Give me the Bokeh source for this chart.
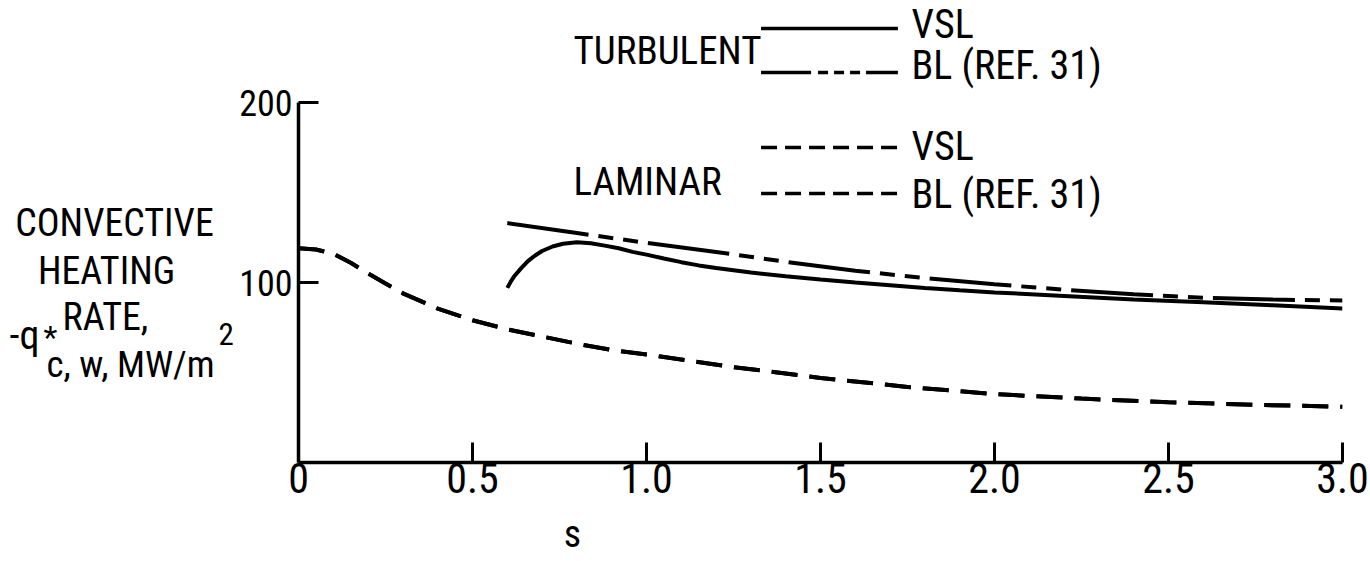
from bokeh.plotting import figure
from bokeh.models import Range1d, FixedTicker, Label, CustomJSTickFormatter
from bokeh.layouts import row, column
from bokeh.embed import file_html
from bokeh.resources import INLINE

# ---------------- data ----------------
# laminar: VSL and BL (ref. 31) coincide in the picture
s_lam = [0.0, 0.05, 0.1, 0.15, 0.2, 0.25, 0.3, 0.4, 0.5, 0.6, 0.7, 0.8, 0.9, 1.0,
         1.25, 1.5, 1.75, 2.0, 2.25, 2.5, 2.75, 3.0]
q_lam_vsl = [119, 118.3, 116, 111, 105, 99.5, 94, 85.5, 79, 74, 70, 66, 62.5, 60,
             53, 47, 42, 38, 35.5, 33.5, 32, 31]
q_lam_bl = [119, 118.3, 116, 111, 105, 99.5, 94, 85.5, 79, 74, 70, 66, 62.5, 60,
            53, 47, 42, 38, 35.5, 33.5, 32, 31]

# turbulent VSL
s_turb_vsl = [0.6, 0.61, 0.62, 0.64, 0.66, 0.68, 0.7, 0.73, 0.76, 0.8, 0.84, 0.88,
              0.92, 0.96, 1.0, 1.05, 1.1, 1.15, 1.2, 1.3, 1.4, 1.5, 1.6, 1.7, 1.8,
              1.9, 2.0, 2.2, 2.4, 2.6, 2.8, 3.0]
q_turb_vsl = [97, 100.5, 103.5, 108, 112, 115, 117.5, 120, 121.5, 122.3, 121.8, 120.5,
              119, 117, 115.5, 113.3, 111.3, 109.5, 108, 105.5, 103.5, 101.7, 100, 98.5, 97,
              95.7, 94.5, 92.5, 90.5, 89, 87.3, 85.6]

# turbulent BL (ref. 31)
s_turb_bl = [0.6, 0.8, 1.0, 1.2, 1.4, 1.6, 1.8, 2.0, 2.2, 2.4, 2.6, 2.8, 3.0]
q_turb_bl = [133, 127.5, 122, 117, 111.5, 106.5, 102.5, 99, 96, 93.5, 91.5, 90.5, 90]

x_ticks = [0.0, 0.5, 1.0, 1.5, 2.0, 2.5, 3.0]
y_ticks = [100, 200]

legend_groups = ["TURBULENT", "LAMINAR"]
legend_items = ["VSL", "BL (REF. 31)"]
x_label = "s"
y_label_lines = ["CONVECTIVE", "HEATING", "RATE,"]

# ---------------- layout ----------------
FONT = "'Liberation Sans Narrow', 'Roboto Condensed', 'DejaVu Sans Condensed', 'Open Sans', sans-serif"
W, H = 1370, 561
WL = 236                      # left strip holding the y title
AX_X0 = 297                   # pixel of s = 0
FRAME_TOP, FRAME_BOT = 0, 462
PH = 512                      # height of main plot (frame + tick labels)
BH = H - PH                   # bottom strip holding the x title
RIGHT = 28
FW = W - AX_X0 - RIGHT
FH = FRAME_BOT - FRAME_TOP
X_MAX = 3.0
Y_MAX = FH * 100.0 / 180.0
BASE_K = 0.37                 # label baseline correction (fraction of font size)

p = figure(width=W - WL, height=PH, x_range=Range1d(0, X_MAX), y_range=Range1d(0, Y_MAX),
           output_backend="svg", toolbar_location=None,
           min_border_left=AX_X0 - WL, min_border_right=RIGHT,
           min_border_top=FRAME_TOP, min_border_bottom=PH - FRAME_BOT)
p.outline_line_color = None
p.xgrid.visible = False
p.ygrid.visible = False

for ax in (p.xaxis[0], p.yaxis[0]):
    ax.axis_line_width = 3.5
    ax.axis_line_color = "black"
    ax.major_tick_in = 20
    ax.major_tick_out = 0
    ax.major_tick_line_width = 3
    ax.major_tick_line_color = "black"
    ax.minor_tick_line_color = None
    ax.major_label_text_font = FONT
    ax.major_label_text_color = "black"

p.xaxis.ticker = FixedTicker(ticks=x_ticks)
p.xaxis.formatter = CustomJSTickFormatter(code="return tick == 0 ? '0' : tick.toFixed(1);")
p.xaxis.bounds = (0, X_MAX)
p.xaxis.major_label_text_font_size = "42px"
p.xaxis.major_label_standoff = 0

p.yaxis.ticker = FixedTicker(ticks=y_ticks)
p.yaxis.bounds = (0, 200)
p.yaxis.major_label_text_font_size = "36px"
p.yaxis.major_label_standoff = 6

# ---------------- curves ----------------
LAM_DASH = "26 12"
TURB_BL_DASH = "82 10 15 10 15 10"
p.line(s_lam, q_lam_vsl, line_width=4, line_color="black", line_dash=LAM_DASH)
p.line(s_lam, q_lam_bl, line_width=4, line_color="black", line_dash=LAM_DASH)
p.line(s_turb_vsl, q_turb_vsl, line_width=4, line_color="black")
p.line(s_turb_bl, q_turb_bl, line_width=4, line_color="black", line_dash=TURB_BL_DASH)

# ---------------- helpers for pixel layout ----------------
def dx(px):
    return (px - AX_X0) * X_MAX / FW

def dy(py):
    return (FRAME_BOT - py) * Y_MAX / FH

def lab(fig, left, bottom, text, px, py, size, align="left"):
    """place text with its baseline at canvas pixel (px, py); fig frame starts at
    canvas x `left`, its frame bottom is at canvas y `bottom`"""
    py_t = py - BASE_K * size
    fig.add_layout(Label(x=px - left, y=bottom - py_t, x_units="screen", y_units="screen",
                         text=text, text_font=FONT, text_font_size=f"{size}px",
                         text_align=align, text_baseline="alphabetic", text_color="black"))

# ---------------- legend ----------------
LX0, LX1 = 760, 897
p.line([dx(LX0), dx(LX1)], [dy(28), dy(28)], line_width=3.5, line_color="black")
p.line([dx(LX0), dx(LX1)], [dy(72), dy(72)], line_width=3.5, line_color="black",
       line_dash="50 7 10 6 10 6 10 6")
p.line([dx(LX0), dx(LX1)], [dy(147), dy(147)], line_width=3.5, line_color="black",
       line_dash="16 8")
p.line([dx(LX0), dx(LX1)], [dy(193), dy(193)], line_width=3.5, line_color="black",
       line_dash="16 8")

lab(p, AX_X0, FRAME_BOT, legend_groups[0], 572, 65, 39)
lab(p, AX_X0, FRAME_BOT, legend_items[0], 910, 39, 40)
lab(p, AX_X0, FRAME_BOT, legend_items[1], 910, 80, 40)
lab(p, AX_X0, FRAME_BOT, legend_groups[1], 572, 196, 39)
lab(p, AX_X0, FRAME_BOT, legend_items[0], 910, 161, 40)
lab(p, AX_X0, FRAME_BOT, legend_items[1], 910, 209, 40)

# ---------------- left strip: y title (its frame is aligned with the main frame) ----------------
pl = figure(width=WL, height=PH, x_range=Range1d(0, WL), y_range=Range1d(0, FH),
            output_backend="svg", toolbar_location=None,
            x_axis_location=None, y_axis_location=None, min_border=0)
pl.outline_line_color = None
pl.grid.visible = False

lab(pl, 0, FRAME_BOT, y_label_lines[0], 114, 237, 38, align="center")
lab(pl, 0, FRAME_BOT, y_label_lines[1], 106, 285, 38, align="center")
lab(pl, 0, FRAME_BOT, y_label_lines[2], 62, 331, 38)
lab(pl, 0, FRAME_BOT, "-q", 9, 350, 40)
lab(pl, 0, FRAME_BOT, "*", 43, 348, 32)
lab(pl, 0, FRAME_BOT, "c, w, MW/m", 46, 378, 37)
lab(pl, 0, FRAME_BOT, "2", 218, 345, 31)

# ---------------- bottom strip: x title ----------------
pb = figure(width=W, height=BH, x_range=Range1d(0, W), y_range=Range1d(0, BH),
            output_backend="svg", toolbar_location=None,
            x_axis_location=None, y_axis_location=None, min_border=0)
pb.outline_line_color = None
pb.grid.visible = False
lab(pb, 0, H, x_label, 572, 548, 38, align="center")

layout = column(row(pl, p), pb)
open("out.html", "w").write(file_html(layout, INLINE))
